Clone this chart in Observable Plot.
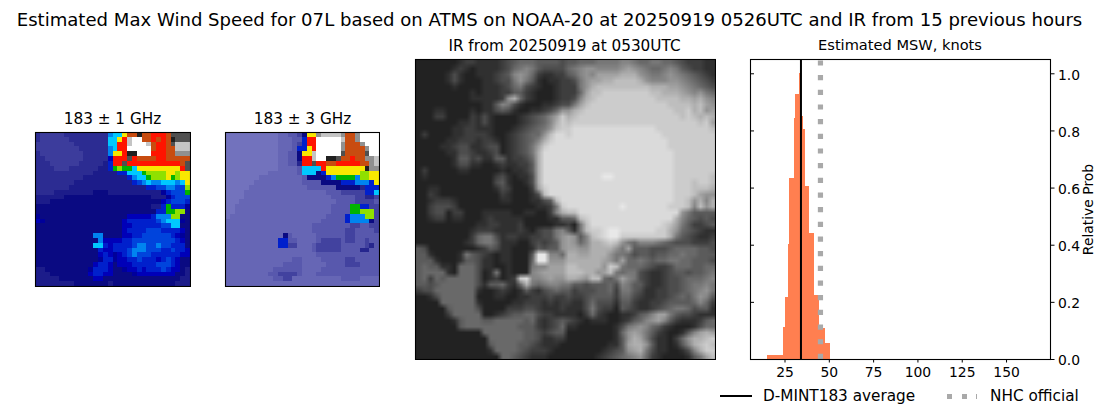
<!DOCTYPE html>
<html><head><meta charset="utf-8">
<script src="https://cdn.jsdelivr.net/npm/d3@7"></script>
<script src="https://cdn.jsdelivr.net/npm/@observablehq/plot@0.6"></script>
<style>
html,body{margin:0;padding:0;background:#fff;overflow:hidden}
#page{position:relative;width:1100px;height:409px;font-family:"DejaVu Sans",sans-serif;color:#000}
#page>div{position:absolute}
.t{white-space:nowrap;transform:translateX(-50%)}
.panel svg{display:block;background:transparent}
</style></head><body><div id="page"></div>
<script>
const mainTitle="Estimated Max Wind Speed for 07L based on ATMS on NOAA-20 at 20250919 0526UTC and IR from 15 previous hours";
const title1="183 ± 1 GHz", title2="183 ± 3 GHz", titleIR="IR from 20250919 at 0530UTC", titleHist="Estimated MSW, knots";
const legendLine="D-MINT183 average", legendDots="NHC official", yLabel="Relative Prob";

const paletteKeys=["p","q","r","s","t","u","v","w","x","y","g","h","Y","R","B","k","d","m","l","W","1","2","3","4","5"];
const paletteColors=["#3c3c9c","#2c2c92","#1c1c8a","#0a0a82","#00009a","#0000b8","#0020cc","#0044dc","#0084f0","#00c8ff","#00b400","#90e000","#f8e800","#ff1400","#c84c10","#202020","#505050","#909090","#c4c4c4","#ffffff","#7272bd","#6666b5","#5858ad","#42429f","#26268e"];

const mw1=[
"qpppppqq qqqqqqqx yyYBBkBB RRRBdddd",
"qppppppq qqqqqqqy yYRlWWBB RBRBkddd",
"pppppppp qqqqqqqy yRRlWWWl BRRBdlll",
"pppppppp pqqqqqqx yRRWWWWW BRRBBlll",
"qppppppp ppqqqqqx YYRkkWWW RRRBBmmm",
"qqpppppp ppqqqqqu RRRdRBBB BRRBBBBB",
"qqqppppp pqqqqqrv RRdRRRRR RRRRRRBd",
"qqqqpppq qqqqqrrv ghggyYYY YYYYYYRd",
"qqqqqqqq qqqqrrrr rvvyyygh hhhYYhYY",
"qqqqqqqq qqrrrrrr rrrvxyyg hhhYghYY",
"qqqqqqqq rrrrrrrr rrrrvwxy xxyyyxyY",
"qqqqqqqr rrrrrrrr rrrrrrrv vwwxxwwh",
"qqqqrrrr rrrrsssr rrrrrrrr rrtvwwwg",
"rrrrrrss ssssssss ssssssss rrrtvwww",
"rrrsssss ssssssss ssssssss ssuvwwwv",
"ssssssss ssssssss ssssssss rrvgvvvt",
"ssssssss ssssssss ssssssss svvgghhs",
"tsssssss ssssssss sssuuuuu vxxxhhss",
"utssssss ssssssss ssuvvvvv vwxyyyts",
"ssssssss ssssssss ssuuvvvv vvwwyyss",
"ssssssss ssssssss ssuvvvvw wwvvvvus",
"ssssssss ssssxxss ssuuvvww wwwwvuts",
"ssssssss sssssxuu uuvvwwww wwwwwvus",
"ssssssss ssssyyvu vvvvwxxw wxwwvvvs",
"ssssssss sssssvuu vvvwxxxw wwvvwvvu",
"ssssssss sssssuvu tuvwxwww vvvvvvuu",
"ssssssss ssssstvv tuuvvwvv vuvwvuss",
"ssssssss ssssuvvu suuuvvvv vwwwvuss",
"rrssssss ssstvvvu sstuuvuv vvwvuusr",
"rrrsssss sssuvvuu sssstuuu uuuuussr",
"rrrrrsss ssssuuss ssssssss ssssssrr",
"rrrrrrrr sssssssr ssssssss sssssrrr"];

const mw2=[
"11111111 11122334 sYYmllll mBBmWWWW",
"11111111 11122233 vRRWWWWW lBBmWWWW",
"11111111 11122234 vRRWWWWW mBBBmWWW",
"11111111 1112223v vYRWWWWW mBBBBmWW",
"11111111 1112233s YYlWWWWW dBBBBdWW",
"11111111 1112233s RRlWWkkd BBRBBmml",
"11111111 11122335 RRdRRBBR RRRRBBml",
"11111111 11122223 yyyyRYYY YYYYYkmm",
"11111111 12222223 yyysvYYY YYYYhhYY",
"11111112 22222222 3ssssvxg gggxhhYY",
"11111122 22222222 3333ssss vvvxxxvY",
"11111222 22222222 2333333s ssss5vvv",
"11112222 22222222 22222333 44444vvy",
"11112222 22222222 22222233 33344554",
"11122222 22222222 22222223 33344443",
"11222222 22222222 22222233 33ggvv44",
"11222222 22222222 22222233 33gghhh4",
"12222222 22222222 22222333 3vxxxhh4",
"22222222 22222222 22223333 3vxxxxs4",
"22222222 22222222 22333333 33443344",
"22222222 22222222 22333333 34433334",
"22222222 2222s322 22233333 34433333",
"22222222 222vv332 22234444 34433433",
"22222222 222vv442 22344444 33333453",
"22222222 22222222 22344444 33335533",
"22222222 22222222 22233333 33333333",
"22222222 22222233 22223333 34433333",
"22222222 22223333 22222333 34443333",
"22222222 22333333 22223333 33333333",
"22222222 23344443 22233333 33333333",
"22222222 22334422 22222222 33332222",
"22222222 22222222 22222222 22222222"];

const irNW=[
"11111 11233 22223 45666 55554",
"11111 12321 22223 46787 54444",
"11111 24211 22234 58986 32233",
"11111 24211 12234 47975 21223",
"11111 12111 12223 46743 21123",
"11111 11112 12223 35532 11123",
"11111 11112 22223 9b632 11123",
"11111 11111 12258 74211 12234",
"11122 11112 12245 42112 23469",
"11133 11113 24211 11234 568ad",
"11111 11223 24211 11234 568bd",
"11111 12233 22211 12345 679cd",
"13111 12233 33211 23456 69cee",
"11111 22333 23321 23456 8bdee",
"11112 23442 23441 23457 adeee",
"11111 22443 22341 23457 beeee",
"11111 12553 42255 23346 beeee",
"11111 12442 21123 22335 beeee",
"13111 11221 11112 12235 beeee",
"12111 11111 11134 21224 beeee",
"11111 11111 11145 21124 beeee",
"11221 11111 11124 31113 adeee",
"11321 11111 11113 21112 4ceee",
"11233 32111 11112 21112 245ce",
"11344 43111 11111 11111 2237d"];
const irNE=[
"55666 77778 87667 76654 33322",
"67899 88889 a9876 67875 43322",
"56898 aaaab bb987 78987 65432",
"3479a abbcc ccb98 88998 76543",
"3379b ccccc ccccb bbaa9 87654",
"336ac cdddd ddddc cbbba 98976",
"348bc ddddd ddddd ccccb bab98",
"47acd ddddd ddddd ddccc cbca9",
"9bcdd ddddd ddddd dddcc dbc9a",
"bcddd ddddd ddddd ddddc dcbcb",
"cdddd ddddd ddddd ddddd ddcda",
"deeee eeeee eeeee ddddd ddddc",
"deeee eeeee eeeee edddd ddddd",
"eeeee eeeee eeeee eeddd ddddd",
"eeeee eeeee eeeee eeddd ddddd",
"eeeee eeeee eeeee eeedd ddddd",
"eeeee eeeee eeeee eeedd ddddd",
"eeeee eeeee eeeee eeedd ddddd",
"eeeee eeeee eeeee eeedd ddddd",
"eeeee effee eeeee eeedd ddddc",
"eeeee eeeee eeeee eeedd dcddc",
"eeeee eeeee eeeee eeedd dcccb",
"eeeee eeeee eeeee eeedd dca99",
"eeeee eeeee eeeee eeedd c9b8b",
"eeeee eeeef eeeee eeddd c8c9b"];
const irSW=[
"11344 13311 12222 21122 1138b",
"11233 12211 12322 22211 11225",
"11111 11111 22332 22311 11122",
"11111 11112 33322 22321 34478",
"11111 11113 67742 33223 34479",
"11111 11123 67752 22113 43459",
"54111 11111 23542 21112 54559",
"55211 11275 43212 21115 ff886",
"55521 11255 42212 21116 ff999",
"56552 21666 42211 21117 88aaa",
"56666 21666 41271 21118 9aaaa",
"56365 66666 41231 23de8 89a99",
"55456 66666 42556 326b7 67887",
"34466 66666 21123 21253 24565",
"11246 66666 11122 11223 33433",
"11116 66666 21111 12233 32323",
"11111 56666 41111 33344 32223",
"11111 36666 61123 45566 43322",
"11111 12566 65566 66656 32345",
"11111 11566 66666 66555 32346",
"11111 11111 16666 66655 43455",
"11111 11111 11666 66655 42233",
"11111 11111 11566 66554 32221",
"11111 11111 11266 66543 33211",
"11111 11111 11116 65432 22111"];
const irSE=[
"cceee eeeee eeeee eeee9 75555",
"56cde eeeee eeeee eeeb8 65454",
"317ce eeeee eeeee edca7 53345",
"527cd deffe eeeee ddb96 54322",
"a958c deffd ddddd ddb75 43223",
"a968b bcdc9 76888 76544 43334",
"aa99b bbb97 a5554 44566 66554",
"bbaab bb977 64554 55667 66555",
"bbbbb ba97a 66765 66776 65554",
"ccbbb b9dc7 66654 33466 65566",
"cccbb 9ac76 77432 23455 45567",
"bba9c c657a 87432 23445 66678",
"75545 55648 75532 23445 67787",
"53444 55637 75422 33445 67897",
"43345 55536 64322 33456 57985",
"32246 44425 53223 34555 56863",
"22247 43315 43223 45677 64552",
"22136 32112 23568 aa754 43222",
"43212 22112 35689 a8532 22356",
"22111 11124 78986 53211 12466",
"11111 11126 9a975 32112 58aba",
"11111 11125 9ba74 22136 9bbcd",
"11111 11225 abb95 22125 8bcdc",
"11111 12345 9ab74 22112 48bdd",
"11111 23456 78963 21111 257ac"];

const binEdges=[15.4,23.9,25,26.7,27.8,30.1,31.2,33.1,34,35.3,36.7,39.1,41.9,44.7,48.1,50.4];
const binHeights=[0.015,0.112,0.217,0.403,0.634,0.843,0.928,1.0,0.851,0.804,0.606,0.442,0.224,0.11,0.056];
const dMintAverage=34, nhcOfficial=45;
const xTicks=[25,50,75,100,125,150], yTicks=[0,0.2,0.4,0.6,0.8,1.0];

const page=document.getElementById("page");
const FONT='"DejaVu Sans",sans-serif';
function text(s,cx,y,size){const d=document.createElement("div");d.className="t";d.textContent=s;d.style.cssText=`left:${cx}px;top:${y}px;font-size:${size}px;line-height:${size*1.2}px`;page.append(d);}
function place(el,l,t){const d=document.createElement("div");d.className="panel";d.style.left=l+"px";d.style.top=t+"px";d.append(el);page.append(d);}

function gridCells(rows){const out=[];rows.forEach((r,j)=>[...r.replace(/ /g,"")].forEach((c,i)=>out.push({i,j,c})));return out;}
function microwave(rows,l,t,w){
  const n=rows.length;
  place(Plot.plot({width:w,height:156,margin:0,marginLeft:1,marginTop:1,marginRight:1,marginBottom:1,
    x:{type:"band",domain:d3.range(n),padding:0,round:false,axis:null},
    y:{type:"band",domain:d3.range(n),padding:0,round:false,axis:null},
    color:{type:"ordinal",domain:paletteKeys,range:paletteColors},
    marks:[Plot.cell(gridCells(rows),{x:"i",y:"j",fill:"c",inset:0,shapeRendering:"crispEdges"}),
           Plot.frame({stroke:"#000",strokeWidth:1.1})]}),l,t);
}
microwave(mw1,34,131,157);
microwave(mw2,224,131,156);

const squash=s=>s.replace(/ /g,"");
const irLines=[...irNW.map((r,i)=>squash(r)+squash(irNE[i])),...irSW.map((r,i)=>squash(r)+squash(irSE[i]))];
const irVals=irLines.join("").split("").map(c=>parseInt(c,16));
place(Plot.plot({width:302,height:302,margin:0,marginLeft:1,marginTop:1,marginRight:1,marginBottom:1,
  x:{domain:[0,50],axis:null},y:{domain:[0,50],axis:null,reverse:true},
  color:{type:"linear",domain:[0,15],range:["#141414","#e8e8e8"]},
  marks:[Plot.raster(irVals,{width:50,height:50,x1:0,x2:50,y1:0,y2:50,imageRendering:"auto"}),
         Plot.frame({stroke:"#000",strokeWidth:1.1})]}),414,58);

const bars=binHeights.map((h,i)=>({x1:binEdges[i],x2:binEdges[i+1],h}));
place(Plot.plot({width:350,height:342,marginLeft:1,marginTop:1,marginRight:49,marginBottom:41,
  style:{fontFamily:FONT,fontSize:"13.9px",color:"#000",overflow:"visible"},
  x:{domain:[5.53,174.8]},y:{domain:[0,1.05]},
  marks:[
    Plot.rectY(bars,{x1:"x1",x2:"x2",y:"h",fill:"#ff7f50",inset:0,shapeRendering:"crispEdges"}),
    Plot.ruleX([dMintAverage],{stroke:"#000",strokeWidth:2}),
    Plot.ruleX([nhcOfficial],{y1:0,y2:1.05,stroke:"#a9a9a9",strokeWidth:5.2,strokeDasharray:"5.2 9.47"}),
    Plot.axisX({ticks:xTicks,tickSize:3.5,tickPadding:4,label:null,fontSize:13.9}),
    Plot.axisY({anchor:"left",ticks:yTicks,tickSize:-4,tickFormat:()=>"",label:null}),
    Plot.axisY({anchor:"right",ticks:yTicks,tickSize:3.5,tickFormat:()=>"",label:null}),
    Plot.axisY({anchor:"right",ticks:yTicks,tickSize:0,tickPadding:7.5,dy:1.5,tickFormat:d3.format(".1f"),label:yLabel,labelAnchor:"center",labelArrow:"none",labelOffset:42,fontSize:13.9}),
    Plot.frame({stroke:"#000",strokeWidth:1.1})
  ]}),749,58);

text(mainTitle,549.5,9,18.08);
text(title1,112.5,110,15.28);
text(title2,302.5,110,15.28);
text(titleIR,564.5,36.5,15.28);
text(titleHist,900,36,14.6);

function legendSwatch(l,t,w,h,bg){const d=document.createElement("div");d.style.cssText=`left:${l}px;top:${t}px;width:${w}px;height:${h}px;background:${bg}`;page.append(d);}
legendSwatch(720,395,32,2,"#000");
legendSwatch(947,393.5,5.3,5.3,"#a9a9a9");
legendSwatch(961.7,393.5,5.3,5.3,"#a9a9a9");
legendSwatch(976.4,393.5,0.8,5.3,"#a9a9a9");
const lg=(s,l)=>{const d=document.createElement("div");d.textContent=s;d.style.cssText=`left:${l}px;top:387px;font-size:15.28px;line-height:18px;white-space:nowrap`;page.append(d);};
lg(legendLine,763);lg(legendDots,990);
</script></body></html>
